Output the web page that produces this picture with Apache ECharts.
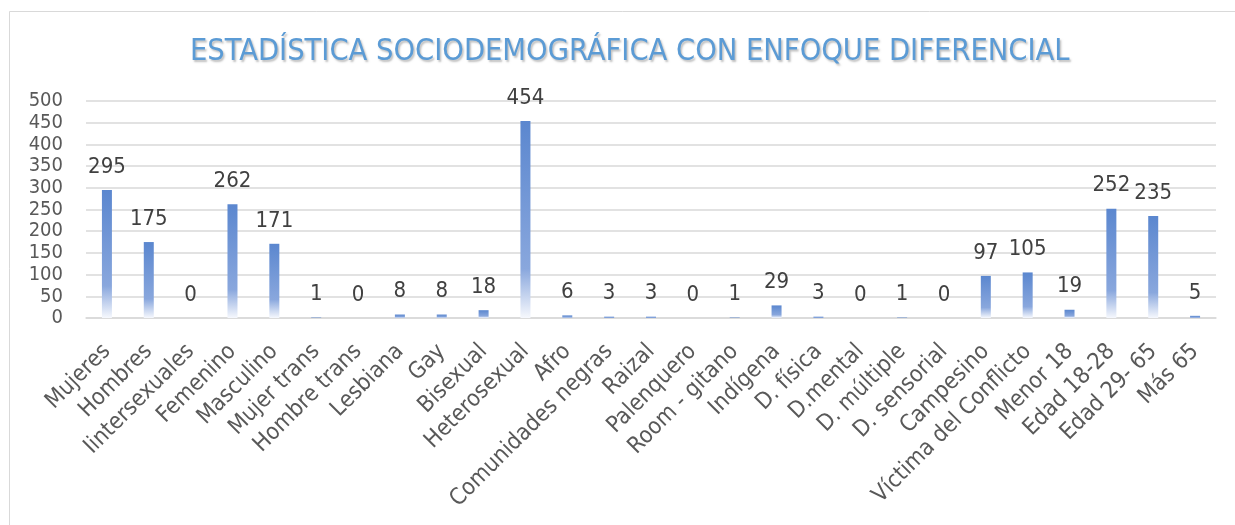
<!DOCTYPE html>
<html><head><meta charset="utf-8">
<script src="https://cdn.jsdelivr.net/npm/echarts@6/dist/echarts.min.js"></script>
<style>html,body{margin:0;padding:0;background:#fff}#c{width:1235px;height:525px}</style>
</head><body><div id="c"></div>
<script>
const categories = ["Mujeres","Hombres","Iintersexuales","Femenino","Masculino","Mujer trans","Hombre trans","Lesbiana","Gay","Bisexual","Heterosexual","Afro","Comunidades negras","Raizal","Palenquero","Room - gitano","Indígena","D. física","D.mental","D. múltiple","D. sensorial","Campesino","Víctima del Conflicto","Menor 18","Edad 18-28","Edad 29- 65","Más 65"];
const values = [295,175,0,262,171,1,0,8,8,18,454,6,3,3,0,1,29,3,0,1,0,97,105,19,252,235,5];
const yTicks = [0,50,100,150,200,250,300,350,400,450,500];
const titleText = "ESTADÍSTICA SOCIODEMOGRÁFICA CON ENFOQUE DIFERENCIAL";

const FONT = "DejaVu Sans Condensed";
const chart = echarts.init(document.getElementById('c'), null, {renderer:'canvas'});
chart.setOption({
  animation:false,
  backgroundColor:'#fff',
  graphic:[{type:'rect',shape:{x:9.5,y:11.5,width:1300,height:600},style:{fill:'none',stroke:'#d9d9d9',lineWidth:1},silent:true,z:-1}],
  title:{text:titleText,left:185,top:32,textStyle:{fontFamily:FONT,fontSize:30.5,fontWeight:'normal',color:'#5b9bd5',textShadowColor:'rgba(0,0,0,0.25)',textShadowBlur:2,textShadowOffsetX:1.5,textShadowOffsetY:1.5}},
  grid:{left:86,right:19,top:101,bottom:207,containLabel:false},
  xAxis:{type:'category',data:categories,
    axisLine:{lineStyle:{color:'#d9d9d9',width:1.5}},axisTick:{show:false},
    axisLabel:{interval:0,rotate:45,color:'#595959',fontFamily:FONT,fontSize:23,margin:30}},
  yAxis:{type:'value',min:yTicks[0],max:yTicks[yTicks.length-1],interval:50,
    axisLine:{show:false},axisTick:{show:false},
    splitLine:{lineStyle:{color:'#d9d9d9',width:1.5}},
    axisLabel:{color:'#595959',fontFamily:FONT,fontSize:20,margin:23}},
  series:[{type:'bar',data:values,barWidth:10,
    itemStyle:{color:new echarts.graphic.LinearGradient(0,0,0,1,[{offset:0,color:'#5b87cf'},{offset:0.75,color:'#89a7dd'},{offset:1,color:'#f6f8fd'}])},
    label:{show:true,position:'top',distance:12,color:'#404040',fontFamily:FONT,fontSize:22}}]
});
</script></body></html>
